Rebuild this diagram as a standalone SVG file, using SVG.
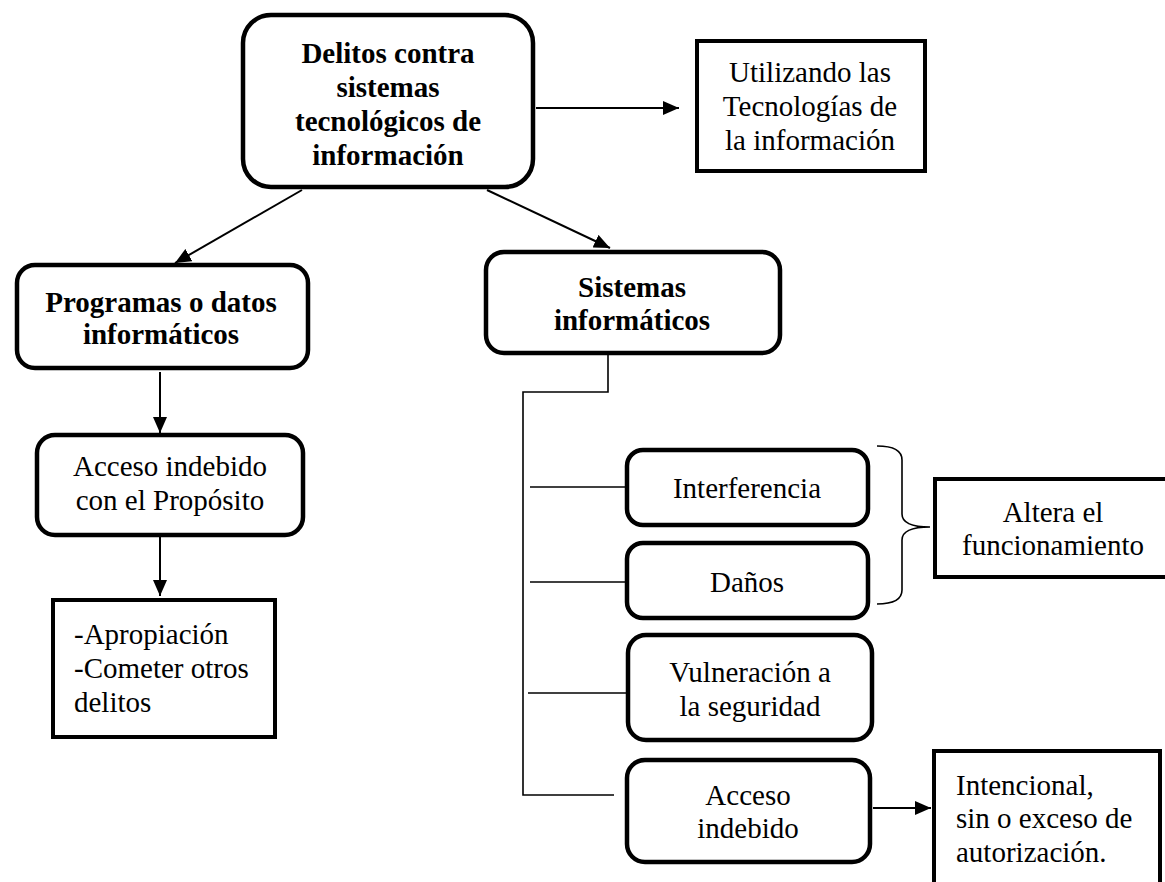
<svg xmlns="http://www.w3.org/2000/svg" width="1165" height="882" viewBox="0 0 1165 882">
  <defs>
    <marker id="arrow" viewBox="0 0 16 14" refX="16" refY="7" markerWidth="16" markerHeight="14" markerUnits="userSpaceOnUse" orient="auto">
      <path d="M0,0 L16,7 L0,14 Z" fill="#000"/>
    </marker>
    <style>
      .rbox { fill: #fff; stroke: #000; stroke-width: 4.5; }
      .sbox { fill: #fff; stroke: #000; stroke-width: 4; }
      .t { font-family: "Liberation Serif", "Times New Roman", serif; font-size: 29px; fill: #000; }
      .b { font-weight: bold; }
      .c { text-anchor: middle; }
      .arr { stroke: #000; stroke-width: 2; fill: none; marker-end: url(#arrow); }
      .ln { stroke: #000; stroke-width: 1.6; fill: none; }
    </style>
  </defs>
  <rect width="1165" height="882" fill="#fff"/>

  <!-- connectors -->
  <g id="connectors">
    <line class="arr" x1="536" y1="108" x2="679" y2="108"/>
    <line class="arr" x1="302" y1="190" x2="175" y2="263"/>
    <line class="arr" x1="487" y1="190" x2="610" y2="248"/>
    <line class="arr" x1="160" y1="372" x2="160" y2="433"/>
    <line class="arr" x1="160" y1="537" x2="160" y2="596"/>
    <line class="arr" x1="873" y1="808" x2="931" y2="808"/>
    <!-- tree from Sistemas informáticos -->
    <polyline class="ln" points="608,354 608,392 523,392 523,795 614,795"/>
    <line class="ln" x1="530" y1="487" x2="627" y2="487"/>
    <line class="ln" x1="530" y1="582" x2="627" y2="582"/>
    <line class="ln" x1="528" y1="693" x2="627" y2="693"/>
    <!-- brace grouping Interferencia and Daños -->
    <path class="ln" d="M877,446 Q902,446 902,460 L902,514 Q902,527 930,527 Q902,527 902,540 L902,590 Q902,604 877,604"/>
  </g>

  <g id="delitos">
    <rect class="rbox" x="243" y="15" width="290" height="172" rx="28"/>
    <text class="t b c" x="388" y="63">Delitos contra</text>
    <text class="t b c" x="388" y="97">sistemas</text>
    <text class="t b c" x="388" y="131">tecnológicos de</text>
    <text class="t b c" x="388" y="165">información</text>
  </g>

  <g id="utilizando">
    <rect class="sbox" x="697" y="41" width="228" height="130"/>
    <text class="t c" x="810" y="82">Utilizando las</text>
    <text class="t c" x="810" y="116">Tecnologías de</text>
    <text class="t c" x="810" y="150">la información</text>
  </g>

  <g id="programas">
    <rect class="rbox" x="17" y="265" width="291" height="103" rx="18"/>
    <text class="t b c" x="161" y="312">Programas o datos</text>
    <text class="t b c" x="161" y="344">informáticos</text>
  </g>

  <g id="acceso-proposito">
    <rect class="rbox" x="37" y="435" width="266" height="100" rx="18"/>
    <text class="t c" x="170" y="476">Acceso indebido</text>
    <text class="t c" x="170" y="510">con el Propósito</text>
  </g>

  <g id="apropiacion">
    <rect class="sbox" x="53" y="600" width="222" height="137"/>
    <text class="t" x="74" y="644">-Apropiación</text>
    <text class="t" x="74" y="678">-Cometer otros</text>
    <text class="t" x="74" y="712">delitos</text>
  </g>

  <g id="sistemas">
    <rect class="rbox" x="486" y="252" width="294" height="101" rx="18"/>
    <text class="t b c" x="632" y="297">Sistemas</text>
    <text class="t b c" x="632" y="330">informáticos</text>
  </g>

  <g id="interferencia">
    <rect class="rbox" x="627" y="450" width="241" height="75" rx="16"/>
    <text class="t c" x="747" y="498">Interferencia</text>
  </g>

  <g id="danos">
    <rect class="rbox" x="627" y="543" width="241" height="75" rx="16"/>
    <text class="t c" x="747" y="592">Daños</text>
  </g>

  <g id="vulneracion">
    <rect class="rbox" x="628" y="635" width="244" height="105" rx="18"/>
    <text class="t c" x="750" y="682">Vulneración a</text>
    <text class="t c" x="750" y="716">la seguridad</text>
  </g>

  <g id="acceso-indebido">
    <rect class="rbox" x="627" y="760" width="243" height="102" rx="18"/>
    <text class="t c" x="748" y="805">Acceso</text>
    <text class="t c" x="748" y="838">indebido</text>
  </g>

  <g id="altera">
    <rect class="sbox" x="935" y="479" width="240" height="98"/>
    <text class="t c" x="1053" y="522">Altera el</text>
    <text class="t c" x="1053" y="555">funcionamiento</text>
  </g>

  <g id="intencional">
    <rect class="sbox" x="934" y="751" width="226" height="150"/>
    <text class="t" x="956" y="795">Intencional,</text>
    <text class="t" x="956" y="828">sin o exceso de</text>
    <text class="t" x="956" y="862">autorización.</text>
  </g>
</svg>
